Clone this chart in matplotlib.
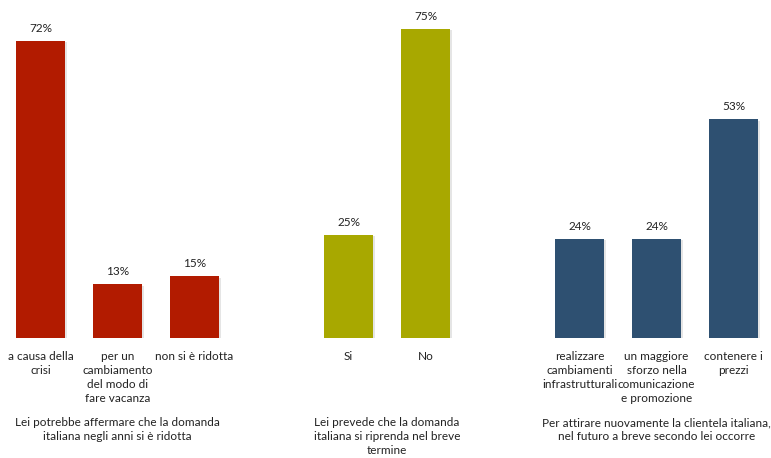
import matplotlib.pyplot as plt
import matplotlib.patheffects as pe
from matplotlib.transforms import blended_transform_factory

plt.rcParams['font.family'] = ['Lato', 'DejaVu Sans']

# posizioni delle barre (slot vuoti tra i gruppi)
pos = [0, 1, 2, 4, 5, 7, 8, 9]
valori = [72, 13, 15, 25, 75, 24, 24, 53]
etichette = ["a causa della\ncrisi", "per un\ncambiamento\ndel modo di\nfare vacanza",
             "non si è ridotta", "Si", "No",
             "realizzare\ncambiamenti\ninfrastrutturali",
             "un maggiore\nsforzo nella\ncomunicazione\ne promozione",
             "contenere i\nprezzi"]
colori = ["#B21B00"] * 3 + ["#A8A800"] * 2 + ["#2E5071"] * 3

gruppi = ["Lei potrebbe affermare che la domanda\nitaliana negli anni si è ridotta",
          "Lei prevede che la domanda\nitaliana si riprenda nel breve\ntermine",
          "Per attirare nuovamente la clientela italiana,\nnel futuro a breve secondo lei occorre"]
centri_gruppi = [1, 4.5, 8]

W, H = 771, 458
fig = plt.figure(figsize=(W / 100, H / 100), dpi=100)
ax = fig.add_axes([2 / W, 120 / H, 770 / W, 330 / H])

bars = ax.bar(pos, valori, width=0.64, color=colori)
for b in bars:
    b.set_path_effects([pe.SimplePatchShadow(offset=(1, -1), shadow_rgbFace='#999999', alpha=0.25),
                        pe.Normal()])

for x, v in zip(pos, valori):
    ax.annotate(f"{v}%", (x, v), xytext=(0, 5), textcoords='offset points',
                ha='center', va='bottom', fontsize=8.5, color='#222222')

ax.set_xlim(-0.5, 9.5)
ax.set_ylim(0, 80)
ax.set_xticks(pos)
ax.set_xticklabels(etichette, fontsize=8.5, color='#222222', linespacing=1.35)
ax.tick_params(axis='x', length=0, pad=9)
ax.set_yticks([])
for s in ax.spines.values():
    s.set_visible(False)

tr = blended_transform_factory(ax.transData, fig.transFigure)
for x, testo in zip(centri_gruppi, gruppi):
    ax.text(x, 1 - 417 / H, testo, transform=tr, ha='center', va='top',
            fontsize=8.5, color='#222222', linespacing=1.35)

fig.savefig("out.png", dpi=100)
